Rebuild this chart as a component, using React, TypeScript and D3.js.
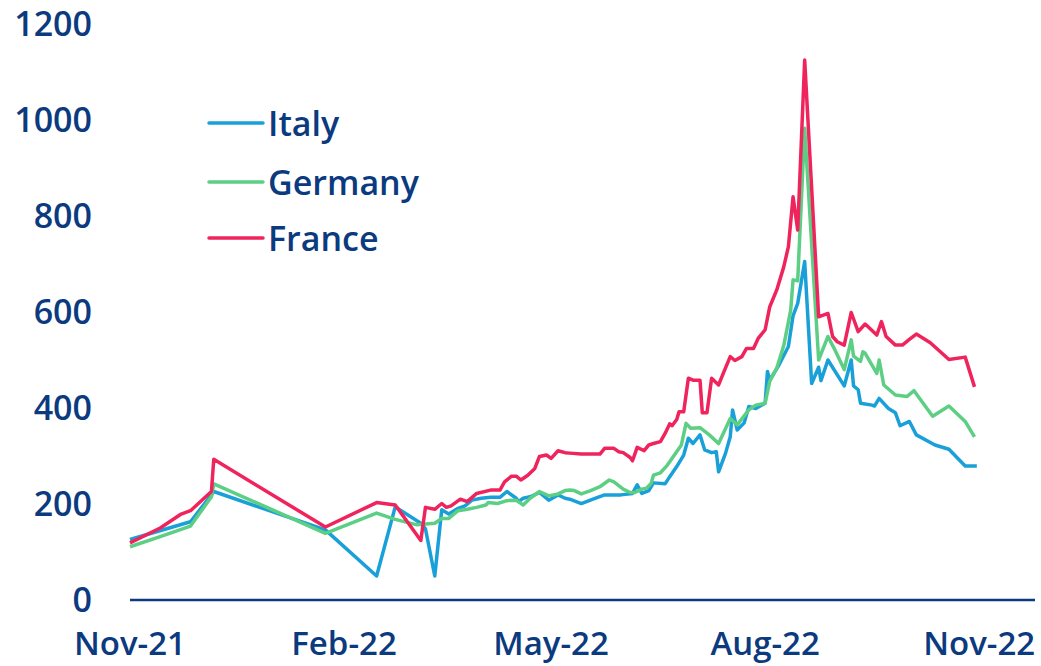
import * as d3 from 'd3';
import { useRef, useEffect } from 'react';

const WIDTH = 1041;
const HEIGHT = 666;
const NAVY = '#0b3a7e';
const FONT = "'Open Sans', 'DejaVu Sans', sans-serif";

const italy: [string, number][] = [
  ['2021-11-01', 126], ['2021-11-27', 163], ['2021-12-06', 219], ['2021-12-07', 226],
  ['2022-01-24', 146], ['2022-02-15', 50], ['2022-02-23', 194], ['2022-03-06', 160],
  ['2022-03-08', 148], ['2022-03-12', 50], ['2022-03-15', 188], ['2022-03-18', 179],
  ['2022-03-22', 191], ['2022-03-25', 196], ['2022-03-28', 208], ['2022-04-01', 212],
  ['2022-04-05', 214], ['2022-04-09', 214], ['2022-04-12', 226], ['2022-04-16', 212],
  ['2022-04-17', 205], ['2022-04-19', 212], ['2022-04-22', 215], ['2022-04-26', 224],
  ['2022-04-30', 208], ['2022-05-04', 219], ['2022-05-07', 212], ['2022-05-09', 210],
  ['2022-05-14', 201], ['2022-05-19', 210], ['2022-05-24', 219], ['2022-05-31', 219],
  ['2022-06-05', 222], ['2022-06-07', 240], ['2022-06-09', 222], ['2022-06-12', 228],
  ['2022-06-14', 244], ['2022-06-19', 242], ['2022-06-21', 257], ['2022-06-24', 278],
  ['2022-06-27', 302], ['2022-06-29', 337], ['2022-07-01', 326], ['2022-07-04', 344],
  ['2022-07-06', 313], ['2022-07-09', 307], ['2022-07-11', 309], ['2022-07-12', 267],
  ['2022-07-15', 306], ['2022-07-17', 340], ['2022-07-18', 396], ['2022-07-20', 354],
  ['2022-07-23', 369], ['2022-07-25', 403], ['2022-07-28', 399], ['2022-08-01', 410],
  ['2022-08-02', 476], ['2022-08-03', 458], ['2022-08-07', 490], ['2022-08-11', 528],
  ['2022-08-13', 592], ['2022-08-15', 618], ['2022-08-18', 705], ['2022-08-21', 451],
  ['2022-08-24', 485], ['2022-08-25', 457], ['2022-08-28', 500], ['2022-09-04', 446],
  ['2022-09-07', 500], ['2022-09-08', 446], ['2022-09-10', 438], ['2022-09-11', 410],
  ['2022-09-16', 406], ['2022-09-17', 404], ['2022-09-19', 420], ['2022-09-23', 399],
  ['2022-09-26', 390], ['2022-09-28', 363], ['2022-10-02', 372], ['2022-10-05', 344],
  ['2022-10-13', 323], ['2022-10-19', 314], ['2022-10-26', 279], ['2022-10-31', 279],
];

const germany: [string, number][] = [
  ['2021-11-01', 111], ['2021-11-14', 132], ['2021-11-27', 154], ['2021-12-06', 215],
  ['2021-12-07', 242], ['2022-01-24', 139], ['2022-02-15', 181], ['2022-02-23', 168],
  ['2022-03-04', 157], ['2022-03-07', 158], ['2022-03-12', 160], ['2022-03-15', 170],
  ['2022-03-18', 170], ['2022-03-22', 186], ['2022-03-26', 189], ['2022-03-30', 193],
  ['2022-04-03', 198], ['2022-04-04', 203], ['2022-04-08', 201], ['2022-04-12', 207],
  ['2022-04-16', 208], ['2022-04-19', 198], ['2022-04-22', 212], ['2022-04-26', 226],
  ['2022-04-30', 217], ['2022-05-04', 221], ['2022-05-07', 228], ['2022-05-09', 229],
  ['2022-05-11', 228], ['2022-05-14', 221], ['2022-05-18', 228], ['2022-05-22', 236],
  ['2022-05-26', 250], ['2022-05-28', 246], ['2022-06-01', 231], ['2022-06-04', 224],
  ['2022-06-06', 224], ['2022-06-09', 231], ['2022-06-11', 233], ['2022-06-13', 243],
  ['2022-06-14', 260], ['2022-06-17', 265], ['2022-06-20', 281], ['2022-06-23', 302],
  ['2022-06-26', 323], ['2022-06-28', 368], ['2022-06-30', 358], ['2022-07-04', 359],
  ['2022-07-08', 344], ['2022-07-12', 326], ['2022-07-17', 378], ['2022-07-20', 365],
  ['2022-07-25', 396], ['2022-07-28', 406], ['2022-08-01', 410], ['2022-08-03', 456],
  ['2022-08-06', 483], ['2022-08-09', 530], ['2022-08-12', 604], ['2022-08-13', 667],
  ['2022-08-15', 665], ['2022-08-18', 983], ['2022-08-24', 500], ['2022-08-28', 549],
  ['2022-08-31', 521], ['2022-09-04', 480], ['2022-09-07', 542], ['2022-09-08', 508],
  ['2022-09-11', 497], ['2022-09-12', 517], ['2022-09-13', 514], ['2022-09-18', 472],
  ['2022-09-19', 500], ['2022-09-21', 448], ['2022-09-26', 427], ['2022-10-01', 424],
  ['2022-10-04', 436], ['2022-10-12', 383], ['2022-10-19', 404], ['2022-10-26', 372],
  ['2022-10-30', 340],
];

const france: [string, number][] = [
  ['2021-11-01', 119], ['2021-11-14', 150], ['2021-11-23', 179], ['2021-11-27', 186],
  ['2021-12-06', 226], ['2021-12-07', 293], ['2022-01-24', 152], ['2022-02-15', 203],
  ['2022-02-23', 198], ['2022-03-06', 124], ['2022-03-08', 193], ['2022-03-12', 189],
  ['2022-03-15', 201], ['2022-03-17', 193], ['2022-03-19', 196], ['2022-03-23', 210],
  ['2022-03-26', 205], ['2022-03-30', 222], ['2022-04-05', 229], ['2022-04-09', 229],
  ['2022-04-11', 246], ['2022-04-14', 258], ['2022-04-16', 258], ['2022-04-18', 250],
  ['2022-04-21', 260], ['2022-04-24', 274], ['2022-04-26', 299], ['2022-04-29', 302],
  ['2022-05-01', 295], ['2022-05-04', 311], ['2022-05-07', 307], ['2022-05-09', 306],
  ['2022-05-14', 304], ['2022-05-22', 304], ['2022-05-24', 316], ['2022-05-28', 316],
  ['2022-05-30', 309], ['2022-06-01', 307], ['2022-06-04', 297], ['2022-06-05', 290],
  ['2022-06-07', 318], ['2022-06-10', 311], ['2022-06-12', 323], ['2022-06-14', 326],
  ['2022-06-17', 330], ['2022-06-19', 347], ['2022-06-21', 367], ['2022-06-22', 363],
  ['2022-06-24', 376], ['2022-06-25', 392], ['2022-06-27', 392], ['2022-06-29', 462],
  ['2022-07-01', 458], ['2022-07-04', 458], ['2022-07-05', 390], ['2022-07-07', 390],
  ['2022-07-09', 462], ['2022-07-12', 448], ['2022-07-14', 472], ['2022-07-17', 507],
  ['2022-07-19', 499], ['2022-07-22', 507], ['2022-07-24', 524], ['2022-07-27', 524],
  ['2022-07-29', 545], ['2022-08-01', 563], ['2022-08-03', 611], ['2022-08-06', 646],
  ['2022-08-09', 694], ['2022-08-11', 736], ['2022-08-13', 840], ['2022-08-15', 771],
  ['2022-08-18', 1125], ['2022-08-24', 590], ['2022-08-28', 597], ['2022-08-30', 549],
  ['2022-09-01', 538], ['2022-09-04', 531], ['2022-09-07', 599], ['2022-09-10', 559],
  ['2022-09-13', 575], ['2022-09-18', 552], ['2022-09-20', 580], ['2022-09-22', 549],
  ['2022-09-26', 531], ['2022-09-29', 531], ['2022-10-02', 543], ['2022-10-05', 554],
  ['2022-10-11', 536], ['2022-10-19', 501], ['2022-10-26', 506], ['2022-10-30', 444],
];

const xTickDates = ['2021-11-01', '2022-02-01', '2022-05-01', '2022-08-01', '2022-11-01'];
const xTickLabels = ['Nov-21', 'Feb-22', 'May-22', 'Aug-22', 'Nov-22'];
const yTicks = [0, 200, 400, 600, 800, 1000, 1200];

const series = [
  { name: 'Italy', color: '#1aa0d8', data: italy },
  { name: 'Germany', color: '#5ccf84', data: germany },
  { name: 'France', color: '#f0245c', data: france },
];

const App = () => {
  const svgRef = useRef(null);

  useEffect(() => {
    drawChart();
  }, []);

  const drawChart = () => {
    const svg = d3.select(svgRef.current);
    svg.selectAll('*').remove();

    const parse = d3.utcParse('%Y-%m-%d');

    // time axis runs a little past Nov-22, as in the original
    const xScale = d3
      .scaleUtc()
      .domain([parse('2021-11-01'), parse('2022-11-25')])
      .range([130, 1035]);

    const yScale = d3.scaleLinear().domain([0, 1200]).range([600, 24]);

    // y labels, no gridlines
    svg
      .append('g')
      .selectAll('text')
      .data(yTicks)
      .join('text')
      .attr('x', 92)
      .attr('y', (d) => yScale(d) - 1)
      .attr('text-anchor', 'end')
      .attr('dominant-baseline', 'central')
      .attr('fill', NAVY)
      .attr('font-family', FONT)
      .attr('font-size', 34)
      .attr('font-weight', 600)
      .text((d) => d);

    // x labels (kept just clear of the bottom edge)
    svg
      .append('g')
      .selectAll('text')
      .data(xTickDates)
      .join('text')
      .attr('x', (d) => xScale(parse(d)))
      .attr('y', 655)
      .attr('text-anchor', 'middle')
      .attr('fill', NAVY)
      .attr('font-family', FONT)
      .attr('font-size', 33)
      .attr('font-weight', 600)
      .text((d, i) => xTickLabels[i]);

    // baseline
    svg
      .append('line')
      .attr('x1', xScale.range()[0])
      .attr('x2', xScale.range()[1])
      .attr('y1', yScale(0))
      .attr('y2', yScale(0))
      .attr('stroke', NAVY)
      .attr('stroke-width', 2.5);

    const line = d3
      .line()
      .x((d) => xScale(parse(d[0])))
      .y((d) => yScale(d[1]));

    svg
      .append('g')
      .selectAll('path')
      .data(series)
      .join('path')
      .attr('d', (s) => line(s.data))
      .attr('fill', 'none')
      .attr('stroke', (s) => s.color)
      .attr('stroke-width', 3.5)
      .attr('stroke-linejoin', 'round');

    // legend
    const legend = svg
      .append('g')
      .selectAll('g')
      .data(series)
      .join('g')
      .attr('transform', (s, i) => `translate(209, ${[123, 182, 238][i]})`);

    legend
      .append('line')
      .attr('x1', 0)
      .attr('x2', 54)
      .attr('stroke', (s) => s.color)
      .attr('stroke-width', 3.5)
      .attr('stroke-linecap', 'round');

    legend
      .append('text')
      .attr('x', 59)
      .attr('dominant-baseline', 'central')
      .attr('fill', NAVY)
      .attr('font-family', FONT)
      .attr('font-size', 34)
      .attr('font-weight', 600)
      .text((s) => s.name);
  };

  return (
    <svg
      ref={svgRef}
      width={WIDTH}
      height={HEIGHT}
      style={{ position: 'absolute', left: 0, top: 0, background: '#fff' }}
    />
  );
};

export default App;
